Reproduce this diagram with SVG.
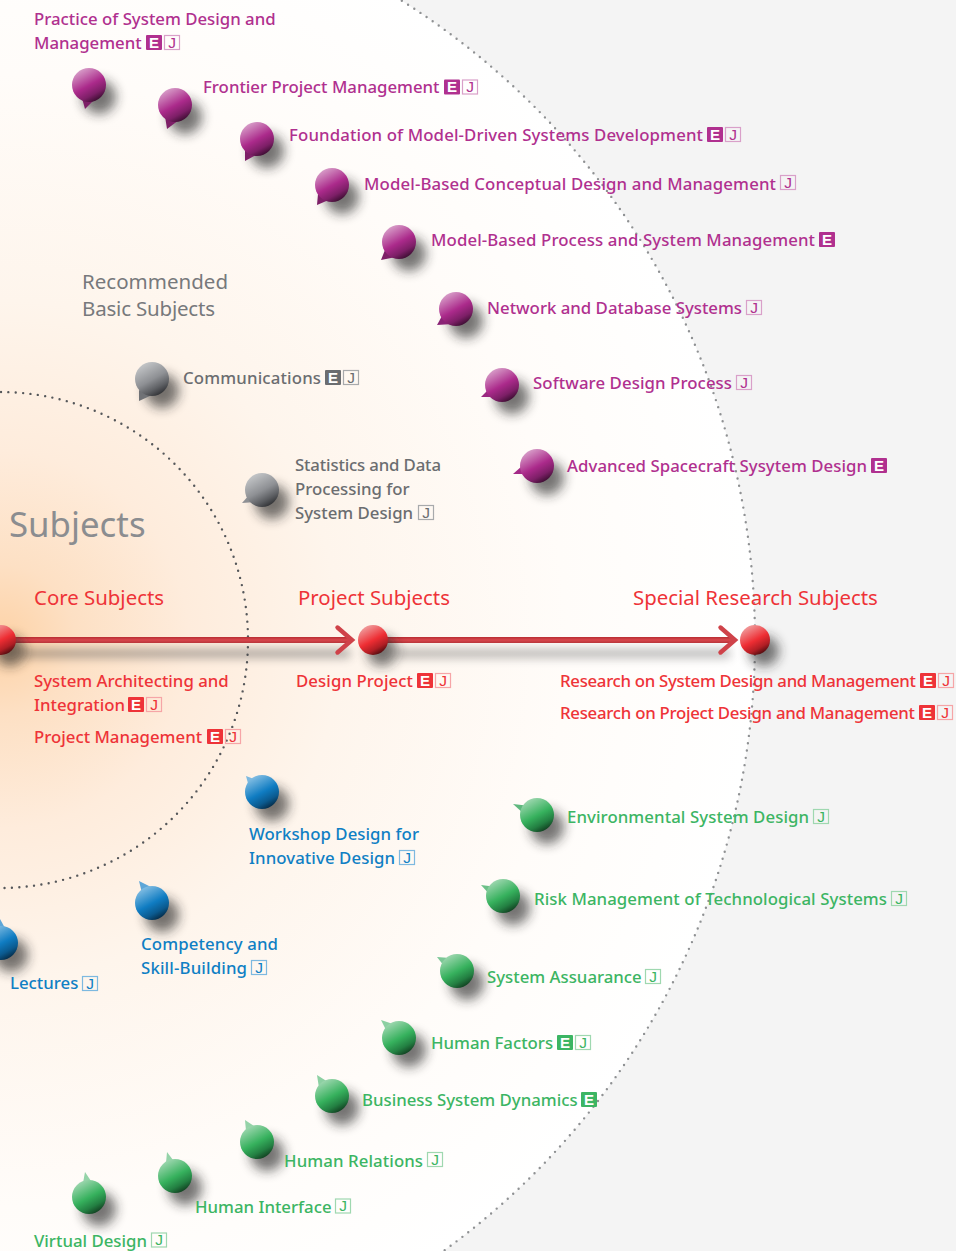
<svg xmlns="http://www.w3.org/2000/svg" width="956" height="1251" viewBox="0 0 956 1251">
<style>
text{font-family:"Noto Sans","Open Sans","Liberation Sans",sans-serif;font-size:16.8px;font-weight:500;transform:translateY(-.5px)}
.p{fill:#b0308f}.r{fill:#ee3338}.g{fill:#3cb563}.b{fill:#0f7fc4}.k{fill:#6b6d70}
.h{font-size:20.4px;font-weight:400;fill:#ee3338;transform:translateY(-1px)}
.e{font-family:"Liberation Sans",sans-serif;font-size:15px;font-weight:700;fill:#fff;text-anchor:middle}
.j{font-family:"Liberation Sans",sans-serif;font-size:15.5px;font-weight:400;text-anchor:middle}
.bo{fill:none;stroke-width:1.2}
.sh{fill:#222;opacity:.62;filter:url(#blur)}
.dot{fill:none;stroke-linecap:round;stroke-width:2.4;stroke-dasharray:0 7.4}
</style>
<defs>
<radialGradient id="bg" gradientUnits="userSpaceOnUse" cx="0" cy="640" r="755">
<stop offset="0" stop-color="#fdd2a6"/><stop offset=".1" stop-color="#fde0c4"/><stop offset=".25" stop-color="#feecdc"/><stop offset=".45" stop-color="#fef5ec"/><stop offset=".75" stop-color="#fffcf9"/><stop offset="1" stop-color="#fff"/>
</radialGradient>
<linearGradient id="gp" x1=".25" y1="0" x2=".8" y2="1"><stop offset="0" stop-color="#dba6cd"/><stop offset=".5" stop-color="#ab2a8b"/><stop offset=".75" stop-color="#7d1f67"/><stop offset="1" stop-color="#26081f"/></linearGradient>
<linearGradient id="gr" x1=".25" y1="0" x2=".8" y2="1"><stop offset="0" stop-color="#f0a5a5"/><stop offset=".5" stop-color="#ee2d33"/><stop offset=".75" stop-color="#b01e24"/><stop offset="1" stop-color="#2e0607"/></linearGradient>
<linearGradient id="gg" x1=".25" y1="0" x2=".8" y2="1"><stop offset="0" stop-color="#a6dab6"/><stop offset=".5" stop-color="#36b15d"/><stop offset=".75" stop-color="#237f42"/><stop offset="1" stop-color="#0c2b16"/></linearGradient>
<linearGradient id="gb" x1=".25" y1="0" x2=".8" y2="1"><stop offset="0" stop-color="#8cc3e6"/><stop offset=".5" stop-color="#0f7cc2"/><stop offset=".75" stop-color="#0b5a8f"/><stop offset="1" stop-color="#031c30"/></linearGradient>
<linearGradient id="gk" x1=".25" y1="0" x2=".8" y2="1"><stop offset="0" stop-color="#c8cacc"/><stop offset=".5" stop-color="#8e9094"/><stop offset=".75" stop-color="#5d5f63"/><stop offset="1" stop-color="#222326"/></linearGradient>
<linearGradient id="ar" x1="0" y1="0" x2="0" y2="1"><stop offset="0" stop-color="#b92d33"/><stop offset=".5" stop-color="#d8474c"/><stop offset="1" stop-color="#b9343a"/></linearGradient>
<filter id="blur" x="-80%" y="-80%" width="260%" height="260%"><feGaussianBlur stdDeviation="6"/></filter>
<filter id="blur2" x="-5%" y="-300%" width="110%" height="700%"><feGaussianBlur stdDeviation="5"/></filter>
</defs>
<rect width="956" height="1251" fill="#f4f4f4"/>
<circle cx="0" cy="640" r="755" fill="url(#bg)"/>
<circle class="dot" cx="0" cy="640" r="248" stroke="#55575a"/>
<circle class="dot" cx="0" cy="640" r="755" stroke="#8f9193"/>
<g id="headings">
<text x="9" y="537" style="font-size:34.800px;font-weight:400;fill:#8b8d90">Subjects</text>
<text x="82" y="289" textLength="146" style="font-size:20.500px;font-weight:400;fill:#77797c">Recommended</text>
<text x="82" y="316" textLength="133" style="font-size:20.500px;font-weight:400;fill:#77797c">Basic Subjects</text>
<text class="h" x="34" y="606">Core Subjects</text>
<text class="h" x="298" y="606">Project Subjects</text>
<text class="h" x="633" y="606">Special Research Subjects</text>
</g>
<g id="connectors">
<rect x="20" y="649" width="330" height="9" fill="#444" opacity=".42" filter="url(#blur2)"/>
<rect x="395" y="649" width="335" height="9" fill="#444" opacity=".36" filter="url(#blur2)"/>
<rect x="14" y="637" width="336" height="6" fill="url(#ar)"/>
<rect x="385" y="637" width="348" height="6" fill="url(#ar)"/>
<path d="M337.500 627.500L352 640L337.500 652.500" fill="none" stroke="#cf4249" stroke-width="4.400" stroke-linecap="round" stroke-linejoin="miter"/>
<path d="M720.500 627.500L735 640L720.500 652.500" fill="none" stroke="#cf4249" stroke-width="4.400" stroke-linecap="round" stroke-linejoin="miter"/>
</g>
<g id="n-core"><circle class="sh" cx="10" cy="651" r="15"/><circle cx="1" cy="640" r="15" fill="url(#gr)"/></g>
<g id="n-project"><circle class="sh" cx="382" cy="651" r="15"/><circle cx="373" cy="640" r="15" fill="url(#gr)"/></g>
<g id="n-research"><circle class="sh" cx="764" cy="651" r="15"/><circle cx="755" cy="640" r="15" fill="url(#gr)"/></g>

<g id="n1"><circle class="sh" cx="99" cy="97" r="17"/><path d="M82 98L85 109L94 100Z" fill="#7d1f67"/><circle cx="89" cy="85" r="17" fill="url(#gp)"/>
<text class="p" x="34" y="25">Practice of System Design and</text><text class="p" x="34" y="49">Management</text>
<rect class="p" x="146" y="35" width="16" height="15" rx="1"/><text class="e" x="154" y="48">E</text><rect class="bo" x="164.500" y="35.500" width="15" height="14" stroke="#d9a0c9"/><text class="j p" x="172" y="48">J</text></g>

<g id="n2"><circle class="sh" cx="185" cy="117" r="17"/><path d="M165 116L167 129L179 120Z" fill="#7d1f67"/><circle cx="175" cy="105" r="17" fill="url(#gp)"/>
<text class="p" x="203" y="93">Frontier Project Management</text>
<rect class="p" x="444" y="79.500" width="16" height="15" rx="1"/><text class="e" x="452" y="92.500">E</text><rect class="bo" x="462.500" y="80" width="15" height="14" stroke="#d9a0c9"/><text class="j p" x="470" y="92.500">J</text></g>

<g id="n3"><circle class="sh" cx="267" cy="151" r="17"/><path d="M245 150L245 161L258 154Z" fill="#7d1f67"/><circle cx="257" cy="139" r="17" fill="url(#gp)"/>
<text class="p" x="289" y="141" textLength="414">Foundation of Model-Driven Systems Development</text>
<rect class="p" x="707" y="127" width="16" height="15" rx="1"/><text class="e" x="715" y="140">E</text><rect class="bo" x="725.500" y="127.500" width="15" height="14" stroke="#d9a0c9"/><text class="j p" x="733" y="140">J</text></g>

<g id="n4"><circle class="sh" cx="342" cy="197" r="17"/><path d="M318 194L317 205L331 199Z" fill="#7d1f67"/><circle cx="332" cy="185" r="17" fill="url(#gp)"/>
<text class="p" x="364" y="190" textLength="412">Model-Based Conceptual Design and Management</text>
<rect class="bo" x="780.500" y="175.500" width="15" height="14" stroke="#d9a0c9"/><text class="j p" x="788" y="188">J</text></g>

<g id="n5"><circle class="sh" cx="409" cy="254" r="17"/><path d="M385 250L381 260L396 257Z" fill="#7d1f67"/><circle cx="399" cy="242" r="17" fill="url(#gp)"/>
<text class="p" x="431" y="246" textLength="384">Model-Based Process and System Management</text>
<rect class="p" x="819" y="232" width="16" height="15" rx="1"/><text class="e" x="827" y="245">E</text></g>

<g id="n6"><circle class="sh" cx="466" cy="321" r="17"/><path d="M442 316L437 325L453 324Z" fill="#8a2376"/><circle cx="456" cy="309" r="17" fill="url(#gp)"/>
<text class="p" x="487" y="314">Network and Database Systems</text>
<rect class="bo" x="746.500" y="300.500" width="15" height="14" stroke="#d9a0c9"/><text class="j p" x="754" y="313">J</text></g>

<g id="n7"><circle class="sh" cx="512" cy="397" r="17"/><path d="M489 389L481 397L498 397Z" fill="#9a2880"/><circle cx="502" cy="385" r="17" fill="url(#gp)"/>
<text class="p" x="533" y="389" textLength="199">Software Design Process</text>
<rect class="bo" x="736.500" y="375.500" width="15" height="14" stroke="#d9a0c9"/><text class="j p" x="744" y="388">J</text></g>

<g id="n8"><circle class="sh" cx="547" cy="478" r="17"/><path d="M522 466L513 474L530 474Z" fill="#a42a88"/><circle cx="537" cy="466" r="17" fill="url(#gp)"/>
<text class="p" x="567" y="472" textLength="300">Advanced Spacecraft Sysytem Design</text>
<rect class="p" x="871" y="458" width="16" height="15" rx="1"/><text class="e" x="879" y="471">E</text></g>

<g id="n9"><circle class="sh" cx="162" cy="391" r="17"/><path d="M139 390L139 401L152 395Z" fill="#707276"/><circle cx="152" cy="379" r="17" fill="url(#gk)"/>
<text class="k" x="183" y="384" textLength="138">Communications</text>
<rect class="k" x="325" y="370" width="16" height="15" rx="1"/><text class="e" x="333" y="383">E</text><rect class="bo" x="343.500" y="370.500" width="15" height="14" stroke="#a8aaac"/><text class="j k" x="351" y="383">J</text></g>

<g id="n10"><circle class="sh" cx="272" cy="502" r="17"/><path d="M250 494L242 503L257 502Z" fill="#8e9094"/><circle cx="262" cy="490" r="17" fill="url(#gk)"/>
<text class="k" x="295" y="471" textLength="146">Statistics and Data</text><text class="k" x="295" y="495">Processing for</text><text class="k" x="295" y="519">System Design</text>
<rect class="bo" x="418.500" y="505.500" width="15" height="14" stroke="#a8aaac"/><text class="j k" x="426" y="518">J</text></g>

<g id="n11"><text class="r" x="34" y="687">System Architecting and</text><text class="r" x="34" y="711">Integration</text>
<rect class="r" x="128" y="697" width="16" height="15" rx="1"/><text class="e" x="136" y="710">E</text><rect class="bo" x="146.500" y="697.500" width="15" height="14" stroke="#f6a5a7"/><text class="j r" x="154" y="710">J</text></g>

<g id="n12"><text class="r" x="34" y="743">Project Management</text>
<rect class="r" x="207" y="729" width="16" height="15" rx="1"/><text class="e" x="215" y="742">E</text><rect class="bo" x="225.500" y="729.500" width="15" height="14" stroke="#f6a5a7"/><text class="j r" x="233" y="742">J</text></g>

<g id="n13"><text class="r" x="296" y="687" textLength="117">Design Project</text>
<rect class="r" x="417" y="673" width="16" height="15" rx="1"/><text class="e" x="425" y="686">E</text><rect class="bo" x="435.500" y="673.500" width="15" height="14" stroke="#f6a5a7"/><text class="j r" x="443" y="686">J</text></g>

<g id="n14"><text class="r" x="560" y="687" textLength="356">Research on System Design and Management</text>
<rect class="r" x="920" y="673" width="16" height="15" rx="1"/><text class="e" x="928" y="686">E</text><rect class="bo" x="938.500" y="673.500" width="15" height="14" stroke="#f6a5a7"/><text class="j r" x="946" y="686">J</text></g>

<g id="n15"><text class="r" x="560" y="719" textLength="355">Research on Project Design and Management</text>
<rect class="r" x="919" y="705" width="16" height="15" rx="1"/><text class="e" x="927" y="718">E</text><rect class="bo" x="937.500" y="705.500" width="15" height="14" stroke="#f6a5a7"/><text class="j r" x="945" y="718">J</text></g>

<g id="n16"><circle class="sh" cx="272" cy="804" r="17"/><path d="M246 776L257 780L249 787Z" fill="#7db9e0"/><circle cx="262" cy="792" r="17" fill="url(#gb)"/>
<text class="b" x="249" y="840" textLength="170">Workshop Design for</text><text class="b" x="249" y="864" textLength="146">Innovative Design</text>
<rect class="bo" x="399.500" y="850.500" width="15" height="14" stroke="#7db9e0"/><text class="j b" x="407" y="863">J</text></g>

<g id="n17"><circle class="sh" cx="162" cy="915" r="17"/><path d="M139 881L151 887L142 893Z" fill="#5da6d8"/><circle cx="152" cy="903" r="17" fill="url(#gb)"/>
<text class="b" x="141" y="950" textLength="137">Competency and</text><text class="b" x="141" y="974" textLength="106">Skill-Building</text>
<rect class="bo" x="251.500" y="960.500" width="15" height="14" stroke="#7db9e0"/><text class="j b" x="259" y="973">J</text></g>

<g id="n18"><circle class="sh" cx="11" cy="955" r="17"/><path d="M0 919L5 928L-3 930Z" fill="#5da6d8"/><circle cx="1" cy="943" r="17" fill="url(#gb)"/>
<text class="b" x="10" y="989">Lectures</text>
<rect class="bo" x="82.500" y="976.500" width="15" height="14" stroke="#7db9e0"/><text class="j b" x="90" y="989">J</text></g>

<g id="n19"><circle class="sh" cx="547" cy="827" r="17"/><path d="M513 804L530 806L524 814Z" fill="#5fb87e"/><circle cx="537" cy="815" r="17" fill="url(#gg)"/>
<text class="g" x="567" y="823" textLength="242">Environmental System Design</text>
<rect class="bo" x="813.500" y="809.500" width="15" height="14" stroke="#9fd8b0"/><text class="j g" x="821" y="822">J</text></g>

<g id="n20"><circle class="sh" cx="513" cy="908" r="17"/><path d="M481 885L497 887L491 896Z" fill="#6cc088"/><circle cx="503" cy="896" r="17" fill="url(#gg)"/>
<text class="g" x="534" y="905" textLength="353">Risk Management of Technological Systems</text>
<rect class="bo" x="891.500" y="891.500" width="15" height="14" stroke="#9fd8b0"/><text class="j g" x="899" y="904">J</text></g>

<g id="n21"><circle class="sh" cx="467" cy="983" r="17"/><path d="M437 957L450 958L444 966Z" fill="#7cc796"/><circle cx="457" cy="971" r="17" fill="url(#gg)"/>
<text class="g" x="487" y="983">System Assuarance</text>
<rect class="bo" x="645.500" y="969.500" width="15" height="14" stroke="#9fd8b0"/><text class="j g" x="653" y="982">J</text></g>

<g id="n22"><circle class="sh" cx="409" cy="1050" r="17"/><path d="M381 1020L393 1024L386 1030Z" fill="#8cd0a2"/><circle cx="399" cy="1038" r="17" fill="url(#gg)"/>
<text class="g" x="431" y="1049">Human Factors</text>
<rect class="g" x="557" y="1035" width="16" height="15" rx="1"/><text class="e" x="565" y="1048">E</text><rect class="bo" x="575.500" y="1035.500" width="15" height="14" stroke="#9fd8b0"/><text class="j g" x="583" y="1048">J</text></g>

<g id="n23"><circle class="sh" cx="342" cy="1108" r="17"/><path d="M317 1075L328 1082L319 1088Z" fill="#8cd0a2"/><circle cx="332" cy="1096" r="17" fill="url(#gg)"/>
<text class="g" x="362" y="1106">Business System Dynamics</text>
<rect class="g" x="581" y="1092" width="16" height="15" rx="1"/><text class="e" x="589" y="1105">E</text></g>

<g id="n24"><circle class="sh" cx="267" cy="1154" r="17"/><path d="M245 1120L254 1126L246 1131Z" fill="#94d3a8"/><circle cx="257" cy="1142" r="17" fill="url(#gg)"/>
<text class="g" x="284" y="1167" textLength="139">Human Relations</text>
<rect class="bo" x="427.500" y="1152.500" width="15" height="14" stroke="#9fd8b0"/><text class="j g" x="435" y="1165">J</text></g>

<g id="n25"><circle class="sh" cx="185" cy="1188" r="17"/><path d="M167 1152L173 1160L166 1163Z" fill="#94d3a8"/><circle cx="175" cy="1176" r="17" fill="url(#gg)"/>
<text class="g" x="195" y="1213">Human Interface</text>
<rect class="bo" x="335.500" y="1199" width="15" height="14" stroke="#9fd8b0"/><text class="j g" x="343" y="1211.500">J</text></g>

<g id="n26"><circle class="sh" cx="99" cy="1209" r="17"/><path d="M85 1172L91 1181L83 1183Z" fill="#94d3a8"/><circle cx="89" cy="1197" r="17" fill="url(#gg)"/>
<text class="g" x="34" y="1247">Virtual Design</text>
<rect class="bo" x="151.500" y="1233" width="15" height="14" stroke="#9fd8b0"/><text class="j g" x="159" y="1245.500">J</text></g>
</svg>
